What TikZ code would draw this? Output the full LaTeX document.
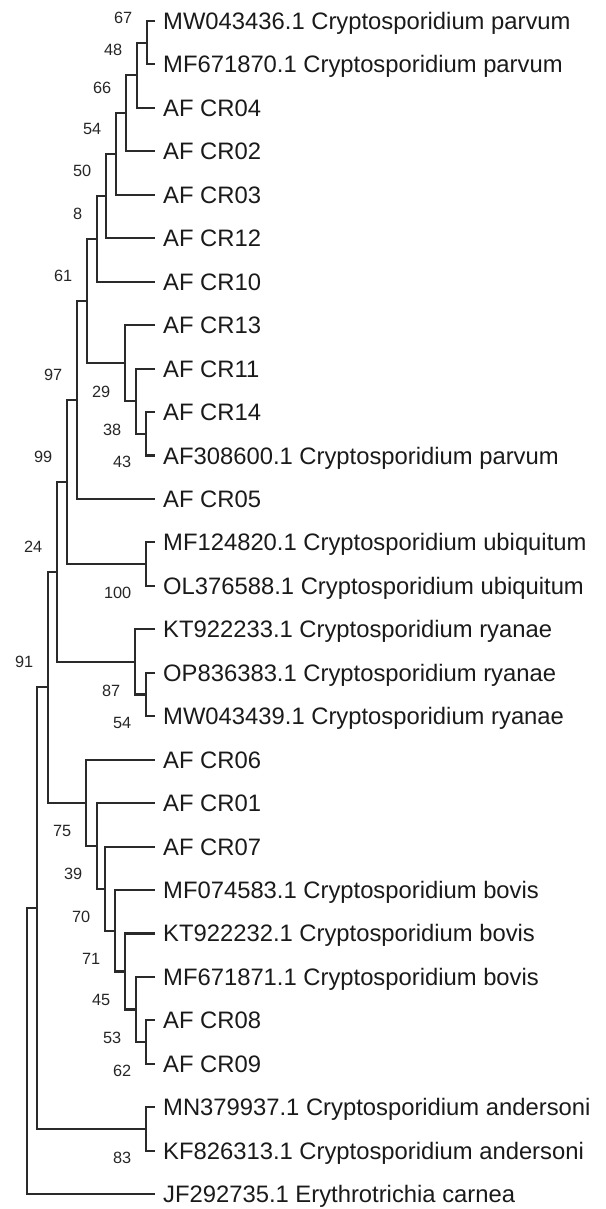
\documentclass[tikz,border=0pt]{standalone}
\usepackage{fontspec}
\setmainfont{Liberation Sans}
\definecolor{linec}{HTML}{2A2A2A}
\definecolor{textc}{HTML}{1A1A1A}
\definecolor{bootc}{HTML}{262626}
\begin{document}
\begin{tikzpicture}[x=1pt,y=-1pt,
  branch/.style={draw=linec, line width=2.1pt, line join=miter, line cap=butt},
  taxon/.style={anchor=base west, inner sep=0pt, text=textc, font=\fontsize{23.8}{26}\selectfont},
  boot/.style={anchor=east, inner sep=0pt, text=bootc, font=\fontsize{16.3}{18}\selectfont},
  bootup/.style={boot, xshift=-14.5pt, yshift=25pt},
  bootdown/.style={boot, xshift=-14.5pt, yshift=-28.5pt}]
\useasboundingbox (0,0) rectangle (605,1209);

% tips: line end (Ln) and its taxon label (tn)
\foreach \i/\y/\lab in {
  1/21.0/MW043436.1 Cryptosporidium parvum,
  2/64.45/MF671870.1 Cryptosporidium parvum,
  3/107.9/AF CR04,
  4/151.35/AF CR02,
  5/194.8/AF CR03,
  6/238.25/AF CR12,
  7/281.7/AF CR10,
  8/325.15/AF CR13,
  9/368.6/AF CR11,
  10/412.05/AF CR14,
  11/455.5/AF308600.1 Cryptosporidium parvum,
  12/498.95/AF CR05,
  13/542.4/MF124820.1 Cryptosporidium ubiquitum,
  14/585.85/OL376588.1 Cryptosporidium ubiquitum,
  15/629.3/KT922233.1 Cryptosporidium ryanae,
  16/672.75/OP836383.1 Cryptosporidium ryanae,
  17/716.2/MW043439.1 Cryptosporidium ryanae,
  18/759.65/AF CR06,
  19/803.1/AF CR01,
  20/846.55/AF CR07,
  21/890.0/MF074583.1 Cryptosporidium bovis,
  22/933.45/KT922232.1 Cryptosporidium bovis,
  23/976.9/MF671871.1 Cryptosporidium bovis,
  24/1020.35/AF CR08,
  25/1063.8/AF CR09,
  26/1107.25/MN379937.1 Cryptosporidium andersoni,
  27/1150.7/KF826313.1 Cryptosporidium andersoni,
  28/1194.15/JF292735.1 Erythrotrichia carnea}{
  \coordinate (L\i) at (155,\y);
  \node[taxon] (t\i) at (163,\y+8.5) {\lab};
}

% internal nodes
\coordinate (n1)  at (147, 42.725);
\coordinate (n2)  at (137, 75.31);
\coordinate (n3)  at (126, 113.33);
\coordinate (n4)  at (116, 154.07);
\coordinate (n5)  at (106, 196.16);
\coordinate (n6)  at (97, 238.93);
\coordinate (n8)  at (146, 433.78);
\coordinate (n9)  at (136, 401.19);
\coordinate (n10) at (125, 363.17);
\coordinate (n7)  at (87, 301.05);
\coordinate (n11) at (77, 400.0);
\coordinate (n12) at (146, 564.13);
\coordinate (n13) at (67, 482.06);
\coordinate (n14) at (146, 694.48);
\coordinate (n15) at (135, 661.89);
\coordinate (n16) at (57, 571.98);
\coordinate (b6)  at (146, 1042.08);
\coordinate (b5)  at (136, 1009.49);
\coordinate (b4)  at (125, 971.47);
\coordinate (b3)  at (115, 930.74);
\coordinate (b2)  at (105, 888.64);
\coordinate (b1)  at (97, 845.87);
\coordinate (b0)  at (86, 802.76);
\coordinate (n17) at (48, 687.37);
\coordinate (an)  at (146, 1128.98);
\coordinate (n18) at (37, 908.17);
\coordinate (root) at (27, 1051.16);

% branches: each internal node joins its two children
\foreach \a/\p/\b in {L1/n1/L2, n1/n2/L3, n2/n3/L4, n3/n4/L5, n4/n5/L6, n5/n6/L7,
  L10/n8/L11, L9/n9/n8, L8/n10/n9, n6/n7/n10, n7/n11/L12,
  L13/n12/L14, n11/n13/n12, L16/n14/L17, L15/n15/n14, n13/n16/n15,
  L24/b6/L25, L23/b5/b6, L22/b4/b5, L21/b3/b4, L20/b2/b3, L19/b1/b2, L18/b0/b1,
  n16/n17/b0, L26/an/L27, n17/n18/an, n18/root/L28}{
  \draw[branch] (\a) -| (\p) |- (\b);
}

% bootstrap support values
\node[bootup]   (s1)  at (n1)  {67};
\node[bootup]   (s2)  at (n2)  {48};
\node[bootup]   (s3)  at (n3)  {66};
\node[bootup]   (s4)  at (n4)  {54};
\node[bootup]   (s5)  at (n5)  {50};
\node[bootup]   (s6)  at (n6)  {8};
\node[bootup]   (s7)  at (n7)  {61};
\node[bootup]   (s11) at (n11) {97};
\node[bootdown] (s10) at (n10) {29};
\node[bootdown] (s9)  at (n9)  {38};
\node[bootdown] (s8)  at (n8)  {43};
\node[bootup]   (s13) at (n13) {99};
\node[bootup]   (s16) at (n16) {24};
\node[bootdown] (s12) at (n12) {100};
\node[bootup]   (s17) at (n17) {91};
\node[bootdown] (s15) at (n15) {87};
\node[bootdown] (s14) at (n14) {54};
\node[bootdown] (sb0) at (b0)  {75};
\node[bootdown] (sb1) at (b1)  {39};
\node[bootdown] (sb2) at (b2)  {70};
\node[bootdown] (sb3) at (b3)  {71};
\node[bootdown] (sb4) at (b4)  {45};
\node[bootdown] (sb5) at (b5)  {53};
\node[bootdown] (sb6) at (b6)  {62};
\node[bootdown] (san) at (an)  {83};
\end{tikzpicture}
\end{document}
